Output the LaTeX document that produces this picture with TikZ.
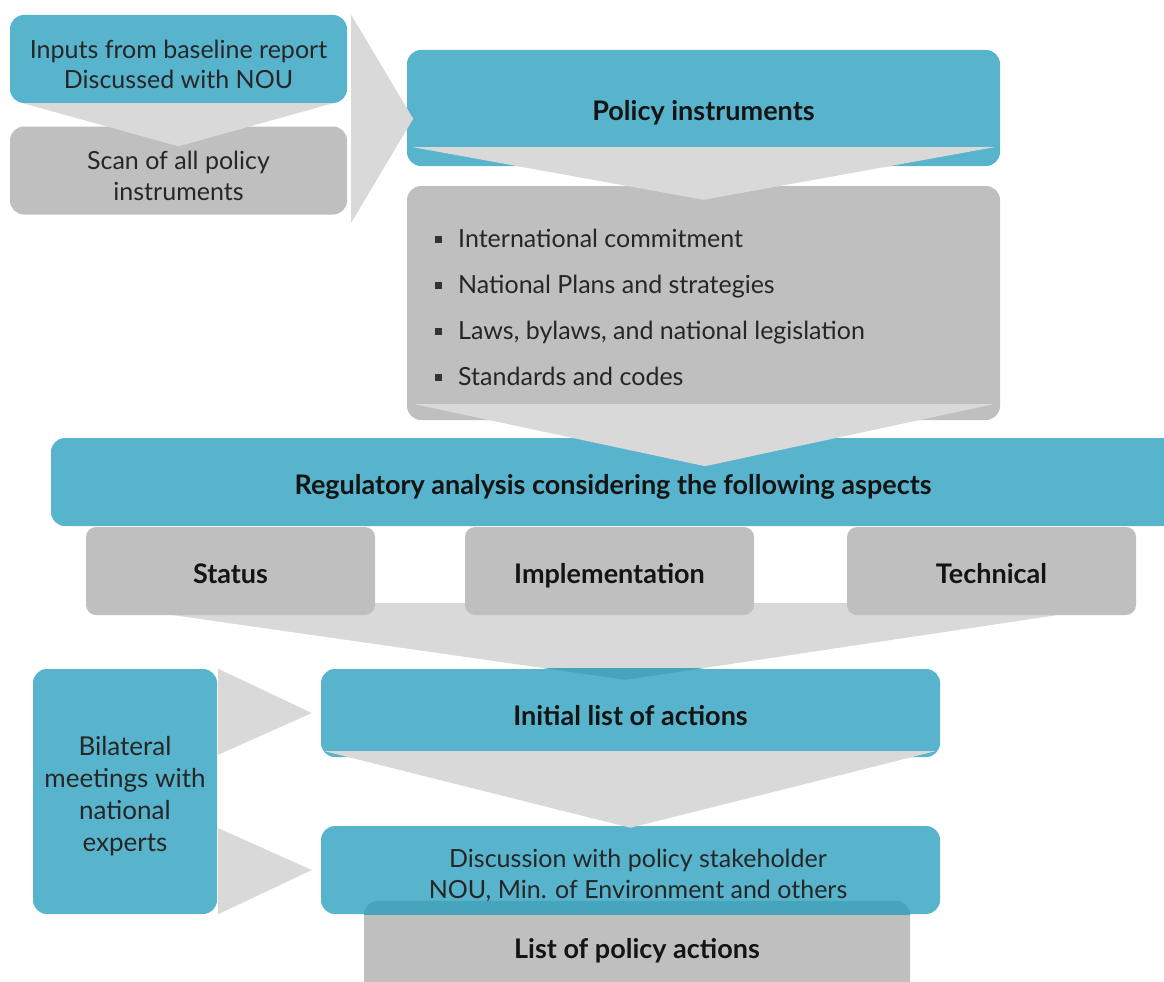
\documentclass[tikz,border=0pt]{standalone}
\usepackage{fontspec}
\setmainfont{Lato}
\usetikzlibrary{calc}
\definecolor{teal1}{RGB}{87,180,204}
\definecolor{tealdark}{RGB}{70,165,188}
\definecolor{grey1}{RGB}{191,191,191}
\definecolor{light1}{RGB}{217,217,217}
\definecolor{txt}{RGB}{38,38,38}
\definecolor{bullet}{RGB}{51,51,51}
\pgfdeclarelayer{bg}
\pgfsetlayers{bg,main}
\newcommand{\topstrut}{\rule{0pt}{29pt}}
\begin{document}
\begin{tikzpicture}[x=1pt,y=-1pt,
  box/.style={rounded corners=14pt, inner sep=0pt, align=center, text=txt, font=\fontsize{25}{30.5}\selectfont},
  tealbox/.style={box, fill=teal1},
  greybox/.style={box, fill=grey1},
  bold/.style={font=\bfseries\fontsize{27}{30}\selectfont, text=black!92, text height=25pt, text depth=0pt},
  aspect/.style={greybox, bold, rounded corners=10pt, minimum width=289pt, minimum height=88pt},
  arrowfill/.style={fill=light1},
]
\clip (0,0) rectangle (1164,982);
% top-left pair
\node[tealbox, minimum width=337pt, minimum height=88pt] (A) at (178.5,59) {\topstrut Inputs from baseline report\\Discussed with NOU};
\node[greybox, minimum width=337pt, minimum height=88pt] (B) at (178.5,170.5) {\topstrut Scan of all policy\\instruments};
\fill[arrowfill] ([xshift=13pt]A.south west) -- ([xshift=-14pt]A.south east) -- ([yshift=-20pt]B.north) -- cycle;
% policy instruments
\node[tealbox, bold, minimum width=593pt, minimum height=116pt] (P) at (703.5,108) {Policy instruments};
\fill[arrowfill] ([xshift=4pt]A.north east) -- ($(A.north east)!0.5!(B.south east)+(66,4)$) -- ([xshift=4pt,yshift=-8pt]B.south east) -- cycle;
\node[greybox, minimum width=593pt, minimum height=234pt] (L) at (703.5,303) {};
\node[anchor=west, align=left, inner sep=0pt, text=txt, font=\fontsize{25}{46}\selectfont] (Ltext) at (435,307)
  {\textcolor{bullet}{\raisebox{4pt}{\rule{7pt}{7pt}}}\hspace{16pt}International commitment\\
   \textcolor{bullet}{\raisebox{4pt}{\rule{7pt}{7pt}}}\hspace{16pt}National Plans and strategies\\
   \textcolor{bullet}{\raisebox{4pt}{\rule{7pt}{7pt}}}\hspace{16pt}Laws, bylaws, and national legislation\\
   \textcolor{bullet}{\raisebox{4pt}{\rule{7pt}{7pt}}}\hspace{16pt}Standards and codes};
\fill[arrowfill] ([xshift=6pt,yshift=19pt]P.south west) -- ([xshift=-6pt,yshift=19pt]P.south east) -- ([yshift=-14pt]L.north) -- cycle;
% regulatory analysis
\node[tealbox, bold, minimum width=1124pt, minimum height=88pt] (R) at (613,482) {Regulatory analysis considering the following aspects};
\fill[arrowfill] ([xshift=8pt,yshift=16pt]L.south west) -- ([xshift=-7pt,yshift=16pt]L.south east) -- ([xshift=1.5pt,yshift=-46pt]L.south) -- cycle;
% aspects
\node[aspect] (S) at (230.5,571) {Status};
\node[aspect] (I) at (609.5,571) {Implementation};
\node[aspect] (T) at (991.5,571) {Technical};
% initial list
\node[tealbox, bold, minimum width=619pt, minimum height=88pt] (IL) at (630.5,713) {Initial list of actions};
\begin{pgfonlayer}{bg}
\fill[arrowfill] ([xshift=4pt,yshift=12pt]S.south west) -- ([yshift=12pt]T.south east) -- ([xshift=-5pt,yshift=-11pt]IL.north) -- cycle;
\end{pgfonlayer}
\begin{scope}
\clip (IL.north west) rectangle (IL.south east);
\fill[tealdark] ([xshift=4pt,yshift=12pt]S.south west) -- ([yshift=12pt]T.south east) -- ([xshift=-5pt,yshift=-11pt]IL.north) -- cycle;
\end{scope}
% bilateral meetings
\node[tealbox, minimum width=184pt, minimum height=245pt, font=\fontsize{26}{32}\selectfont] (BM) at (125,791.5) {\topstrut Bilateral\\meetings with\\national\\experts};
\fill[arrowfill] ([xshift=1pt]BM.north east) -- ([xshift=-9pt]IL.west) -- ([xshift=1pt,yshift=-86pt]BM.north east) -- cycle;
% discussion
\node[tealbox, minimum width=619pt, minimum height=88pt] (D) at (630.5,870) {\hspace*{15pt}\topstrut Discussion with policy stakeholder\\\hspace*{15pt}NOU, Min. of Environment and others};
\fill[arrowfill] ([xshift=1pt,yshift=86pt]BM.south east) -- ([xshift=-9pt]D.west) -- ([xshift=1pt]BM.south east) -- cycle;
\fill[arrowfill] ([xshift=4pt,yshift=6pt]IL.south west) -- ([xshift=-5pt,yshift=6pt]IL.south east) -- ([yshift=-2pt]D.north) -- cycle;
% list of policy actions
\node[greybox, bold, text height=16pt, minimum width=546pt, minimum height=98pt] (LP) at (637,950) {List of policy actions};
\begin{scope}
\clip (D.north west) rectangle (D.south east);
\fill[tealdark, rounded corners=14pt] (LP.north west) rectangle (LP.south east);
\end{scope}
\end{tikzpicture}
\end{document}
